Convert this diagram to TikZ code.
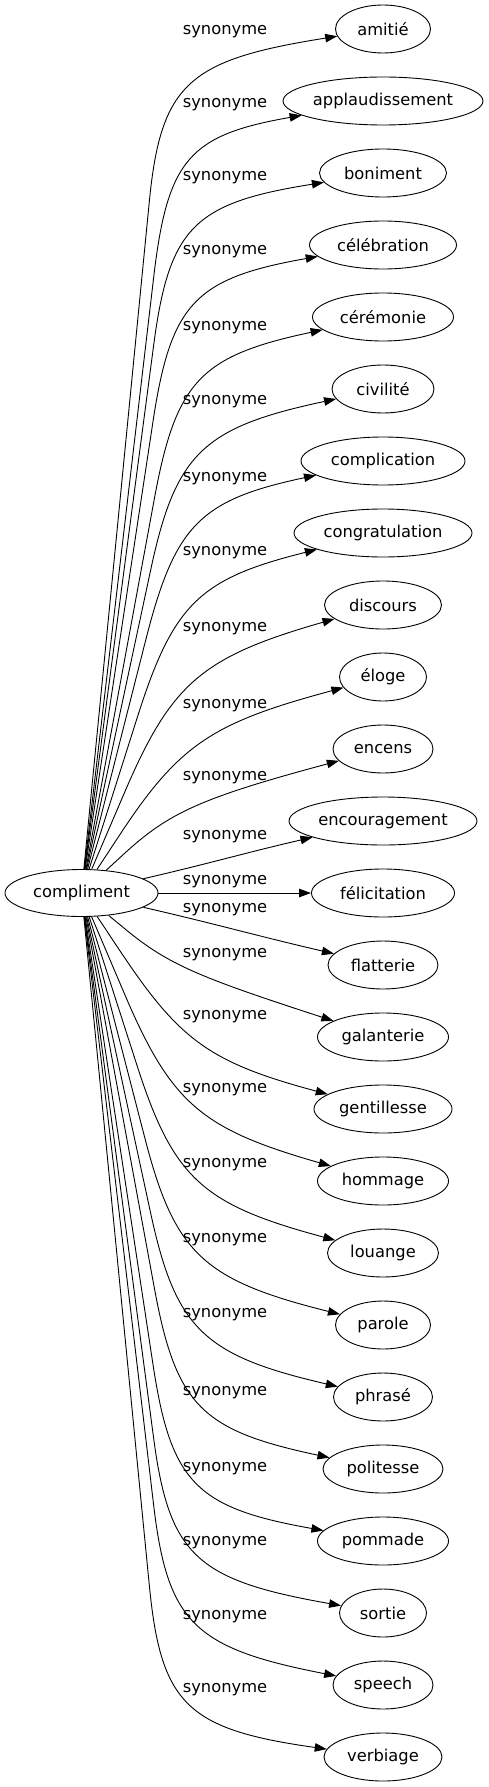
\documentclass[tikz,border=0pt]{standalone}
\usepackage{fontspec}
\setmainfont{DejaVu Sans}
\usepackage{tikz}
\usetikzlibrary{shapes.geometric,arrows.meta}
\tikzstyle{word}=[
        draw,
        ellipse,
        inner sep=0pt,
        minimum height=48pt,
        line width=0.9pt
]
\tikzstyle{rel}=[
        inner sep=0pt
]
\tikzstyle{syn}=[
        line width=0.9pt,
        -{Triangle[length=12pt,width=8.5pt]}
]

\begin{document}
\begin{tikzpicture}[x=1pt,y=-1pt,font=\fontsize{16.3}{19.5}\selectfont]
                        \useasboundingbox (0,0) rectangle (489,1787);

                        \node[word,minimum width=153pt,minimum height=47pt] (c) at (81.5,893) {compliment};

                        \node[word,minimum width=95pt] (amitie) at (383,29) {amitié};
                        \node[word,minimum width=200pt] (applaudissement) at (383,101) {applaudissement};
                        \node[word,minimum width=127pt] (boniment) at (383,173) {boniment};
                        \node[word,minimum width=147pt] (celebration) at (383,245) {célébration};
                        \node[word,minimum width=141pt] (ceremonie) at (383,317) {cérémonie};
                        \node[word,minimum width=102pt] (civilite) at (383,389) {civilité};
                        \node[word,minimum width=164pt] (complication) at (383,461) {complication};
                        \node[word,minimum width=178pt] (congratulation) at (383,533) {congratulation};
                        \node[word,minimum width=117pt] (discours) at (383,605) {discours};
                        \node[word,minimum width=87pt] (eloge) at (383,677) {éloge};
                        \node[word,minimum width=100pt] (encens) at (383,749) {encens};
                        \node[word,minimum width=188pt] (encouragement) at (383,821) {encouragement};
                        \node[word,minimum width=143pt] (felicitation) at (383,893) {félicitation};
                        \node[word,minimum width=110pt] (flatterie) at (383,965) {flatterie};
                        \node[word,minimum width=131pt] (galanterie) at (383,1037) {galanterie};
                        \node[word,minimum width=138pt] (gentillesse) at (383,1109) {gentillesse};
                        \node[word,minimum width=131pt] (hommage) at (383,1181) {hommage};
                        \node[word,minimum width=111pt] (louange) at (383,1253) {louange};
                        \node[word,minimum width=95pt] (parole) at (383,1325) {parole};
                        \node[word,minimum width=99pt] (phrase) at (383,1397) {phrasé};
                        \node[word,minimum width=120pt] (politesse) at (383,1469) {politesse};
                        \node[word,minimum width=131pt] (pommade) at (383,1541) {pommade};
                        \node[word,minimum width=87pt] (sortie) at (383,1613) {sortie};
                        \node[word,minimum width=100pt] (speech) at (383,1685) {speech};
                        \node[word,minimum width=118pt] (verbiage) at (383,1757) {verbiage};

                        % labels
                        \foreach \y [count=\n] in {32,105,178,252,328,402,479,553,629,706,778,837,882,910,955,1017,1090,1165,1240,1315,1393,1469,1543,1617,1690} {
                            \node[rel] (l\n) at (225,\y) {synonyme};
                        }

                        % bent edges: target/width/corner x/corner y/target y
                        \foreach \t/\w/\xx/\xy/\yt in {amitie/95/163/62/29, applaudissement/200/170/138/101, boniment/127/172/206/173, celebration/147/174/283/245, ceremonie/141/180/360/317, civilite/102/180/433/389, complication/164/180/505/461, congratulation/178/180/583/533, discours/117/180/663/605, eloge/87/190/728/677, encens/100/176/806/749, galanterie/131/176/971/1037, gentillesse/138/190/1056/1109, hommage/131/180/1124/1181, louange/111/180/1199/1253, parole/95/180/1274/1325, phrase/99/180/1349/1397, politesse/120/180/1427/1469, pommade/131/174/1503/1541, sortie/87/172/1577/1613, speech/100/170/1644/1685, verbiage/118/163/1725/1757} {
                            \pgfmathsetmacro\al{atan2(893-\xy,\xx-81.5)}
                            \pgfmathsetmacro\ga{atan2(\xy-\yt,383-\xx)}
                            \pgfmathsetmacro\rs{1797.75/sqrt((23.5*cos(\al))^2+(76.5*sin(\al))^2)}
                            \pgfmathsetmacro\rt{12*\w/sqrt((24*cos(\ga))^2+(\w/2*sin(\ga))^2)}
                            \pgfmathsetmacro\len{min(140,0.75*(veclen(\xx-81.5,893-\xy)-\rs))}
                            \pgfmathsetmacro\ax{\xx-\len*cos(\al)}
                            \pgfmathsetmacro\ay{\xy+\len*sin(\al)}
                            \pgfmathsetmacro\dout{0.85*\len}
                            \pgfmathsetmacro\din{0.85*(veclen(383-\xx,\xy-\yt)-\rt)}
                            \pgfmathtruncatemacro\gin{round(180+\ga)}
                            \draw[syn] (c) -- (\ax,\ay) to[out=\al,in=\gin,out distance=\dout pt,in distance=\din pt] (\t);
                        }

                        \draw[syn] (c) to[out=13,in=193] (encouragement);
                        \draw[syn] (c) -- (felicitation);
                        \draw[syn] (c) to[out=-13,in=167] (flatterie);

\end{tikzpicture}
\end{document}
